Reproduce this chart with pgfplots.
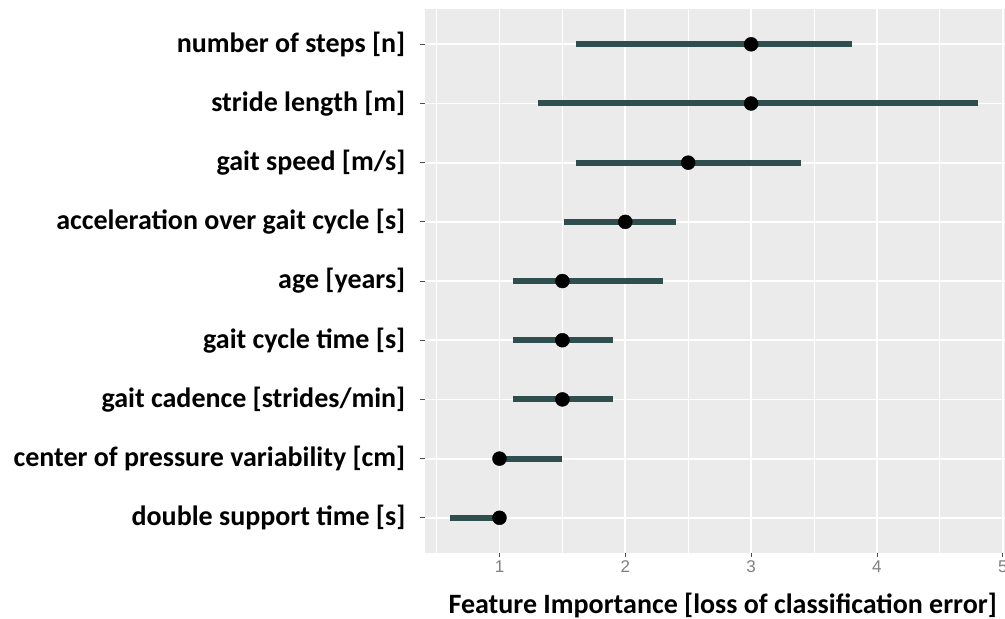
\documentclass[border=0pt]{standalone}
\usepackage{pgfplots}
\pgfplotsset{compat=1.18}
\usepackage{pgfplotstable}
\usepackage{fontspec}
\setmainfont{Carlito}
\newfontfamily\numfont{Liberation Sans}

\definecolor{panel}{HTML}{EBEBEB}
\definecolor{rangecol}{HTML}{2F4F4F}
\definecolor{ticktext}{HTML}{7F7F7F}
\definecolor{tickmark}{HTML}{4D4D4D}

% feature importance: median with 5%-95% range
\pgfplotstableread{
y lo   hi   imp
9 1.61 3.80 3.0
8 1.31 4.80 3.0
7 1.61 3.40 2.5
6 1.51 2.40 2.0
5 1.11 2.30 1.5
4 1.11 1.90 1.5
3 1.11 1.90 1.5
2 1.00 1.50 1.0
1 0.61 1.00 1.0
}\importance

\begin{document}
\begin{tikzpicture}
\useasboundingbox (0,0) rectangle (1005bp,619bp);
\begin{axis}[
  at={(424.5bp,65.7bp)}, anchor=south west,
  width=580.5bp, height=544.5bp, scale only axis,
  xmin=0.404, xmax=5.018, ymin=0.4, ymax=9.6,
  axis background/.style={fill=panel},
  axis line style={draw=none},
  xtick={1,2,3,4,5},
  minor xtick={0.5,1.5,2.5,3.5,4.5},
  ytick={1,...,9},
  yticklabels={double support time [s],
    center of pressure variability [cm],
    gait cadence [strides/min],
    gait cycle time [s],
    age [years],
    acceleration over gait cycle [s],
    gait speed [m/s],
    stride length [m],
    number of steps [n]},
  xmajorgrids, xminorgrids, ymajorgrids,
  major grid style={white, line width=1.8bp},
  minor grid style={white, line width=0.9bp},
  tick align=outside,
  major tick length=4bp, minor tick length=0pt,
  tick style={tickmark, line width=0.8bp},
  xtick pos=bottom, ytick pos=left,
  /pgf/number format/assume math mode=true,
  xticklabel style={font=\numfont\fontsize{17bp}{17bp}\selectfont, text=ticktext},
  yticklabel style={font=\bfseries\fontsize{28bp}{28bp}\selectfont, text=black, anchor=east, inner sep=0pt, xshift=-15bp},
  xlabel={Feature Importance [loss of classification error]},
  xlabel style={font=\bfseries\fontsize{28bp}{28bp}\selectfont, at={(axis description cs:0.5,0)}, anchor=base, yshift=-59.7bp, xshift=8bp},
  clip=false,
]
\addplot[draw=none, mark=none,
  error bars/.cd, x dir=both, x explicit, error mark=none,
  error bar style={rangecol, line width=6bp, line cap=butt}]
  table[x=imp, y=y,
        x error plus expr=\thisrow{hi}-\thisrow{imp},
        x error minus expr=\thisrow{imp}-\thisrow{lo}] {\importance};
\addplot[only marks, mark=*, mark size=7bp, black] table[x=imp, y=y] {\importance};
\end{axis}
\end{tikzpicture}
\end{document}
